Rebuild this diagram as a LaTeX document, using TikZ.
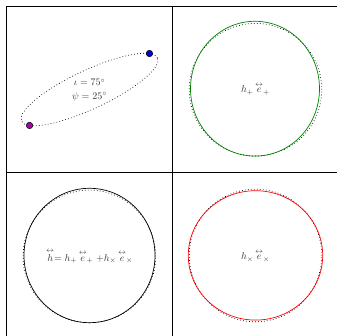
\documentclass[tikz,border=0pt]{standalone}
\usepackage{amsmath}
\definecolor{dotblue}{RGB}{0,0,230}
\definecolor{dotpink}{RGB}{170,0,170}
\definecolor{ringgreen}{RGB}{0,130,0}
\newcommand{\tens}[1]{\overset{\leftrightarrow}{#1}}

\begin{document}
\begin{tikzpicture}[x=1pt,y=1pt,
    blob/.style={circle,draw=black,line width=0.5pt,inner sep=0pt,minimum size=6.5pt},
    ring/.style={line width=0.7pt,dash pattern=on 0.7pt off 2.3pt},
    lab/.style={text=black!80,inner sep=1pt}]
  \useasboundingbox (0,0) rectangle (337,336);
  % --- Helper: \restring{x}{y} draws the dotted undeformed ring of a panel centred at (x,y)
  \newcommand{\restring}[2]{\draw[ring] (#1,#2) circle (66.3);}
  % Frame of the four panels (cropped at right and bottom).
  \draw[line width=0.9pt] (6.5,0) -- (6.5,329.5) -- (337,329.5);
  \draw[line width=0.9pt] (172.5,0) -- (172.5,329.5);
  \draw[line width=0.9pt] (6.5,163.5) -- (337,163.5);
  % Top left: orbit seen at inclination, with the two bodies.
  \begin{scope}[shift={(89.5,246.5)},rotate=25]
    \draw[ring] (0,0) ellipse [x radius=75, y radius=19.4];
    \node[blob,fill=dotblue] (bodyA) at (22:75 and 19.4) {};
    \node[blob,fill=dotpink] (bodyB) at (202:75 and 19.4) {};
  \end{scope}
  \node[lab] (incl) at (89.5,253.5) {$\iota = 75^\circ$};
  \node[lab] (pol) at (89.5,239) {$\psi = 25^\circ$};
  % Top right: plus polarisation.
  \restring{255.5}{246.3}
  \draw[ringgreen,line width=0.7pt] (255,247.3) ellipse [x radius=64.5, y radius=67.4];
  \node[lab] (hplus) at (255.5,247) {$h_+\,\tens{e}_+$};
  % Bottom left: the sum.
  \restring{89.4}{79.6}
  \draw[black,line width=0.7pt] (89.5,80.5) ellipse [x radius=65.5, y radius=67.2];
  \node[lab] (hsum) at (89.5,80) {$\tens{h}{=}\;h_+\,\tens{e}_+\;{+}h_\times\,\tens{e}_\times$};
  % Bottom right: cross polarisation.
  \restring{255.5}{80.5}
  \draw[red,line width=0.7pt] (255.5,80.6) ellipse [x radius=67.2, y radius=64.7];
  \node[lab] (hcross) at (255.5,80) {$h_\times\,\tens{e}_\times$};
\end{tikzpicture}
\end{document}
